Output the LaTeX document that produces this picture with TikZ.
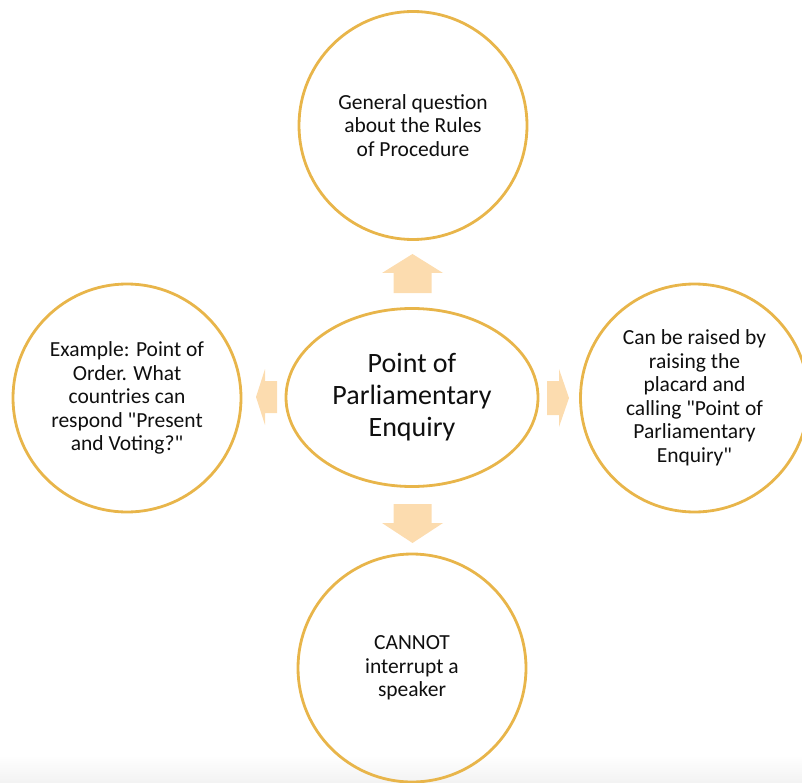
\documentclass[tikz,border=0pt]{standalone}
\usepackage{fontspec}
\setmainfont{Carlito}
\usetikzlibrary{shapes.geometric}
\definecolor{gold}{RGB}{232,181,74}
\definecolor{peach}{RGB}{252,220,175}
\definecolor{ink}{RGB}{15,15,15}
\begin{document}
\begin{tikzpicture}[x=1pt,y=-1pt,
  ring/.style={draw=gold, line width=2.8pt, circle, minimum size=228pt,
    inner sep=0pt, align=center, text=ink,
    font=\fontsize{21.5}{23.5}\selectfont},
  hub/.style={draw=gold, line width=2.8pt, ellipse, minimum width=252pt,
    minimum height=178pt, inner sep=0pt, align=center, text=ink,
    font=\fontsize{28}{32}\selectfont},
  pics/blockarrow/.style n args={4}{code={
    \fill[peach] (0,-#3) -- (#1,-#3) -- (#1,-#4) -- (#1+#2,0)
      -- (#1,#4) -- (#1,#3) -- (0,#3) -- cycle;}}]
  \useasboundingbox (0,0) rectangle (802,783);
  \clip (0,0) rectangle (802,783);
  % faint grey band along the lower edge
  \shade[top color=white, bottom color=black!5] (0,755) rectangle (802,783);

  % centre topic
  \node[hub] (hub) at (412,397.5) {Point of\\Parliamentary\\Enquiry};

  % surrounding notes
  \node[ring] (top) at (413,125.5) {General question\\about the Rules\\of Procedure};
  \node[ring] (left) at (127,398) {Example: Point of\\Order. What\\countries can\\respond \textquotedbl Present\\and Voting?\textquotedbl};
  \node[ring] (right) at (694.5,398) {Can be raised by\\raising the\\placard and\\calling \textquotedbl Point of\\Parliamentary\\Enquiry\textquotedbl};
  \node[ring] (bottom) at (412,668) {CANNOT\\interrupt a\\speaker};

  % block arrows pointing outwards from the centre
  \pic[rotate=90] at (412.5,293) {blockarrow={20}{19}{19}{30.5}};
  \pic[rotate=-90] at (412.5,504) {blockarrow={19}{20}{19}{30.5}};
  \pic[rotate=180] at (277,397) {blockarrow={12}{9}{16}{28}};
  \pic at (547,398) {blockarrow={12}{10}{17}{29}};
\end{tikzpicture}
\end{document}
